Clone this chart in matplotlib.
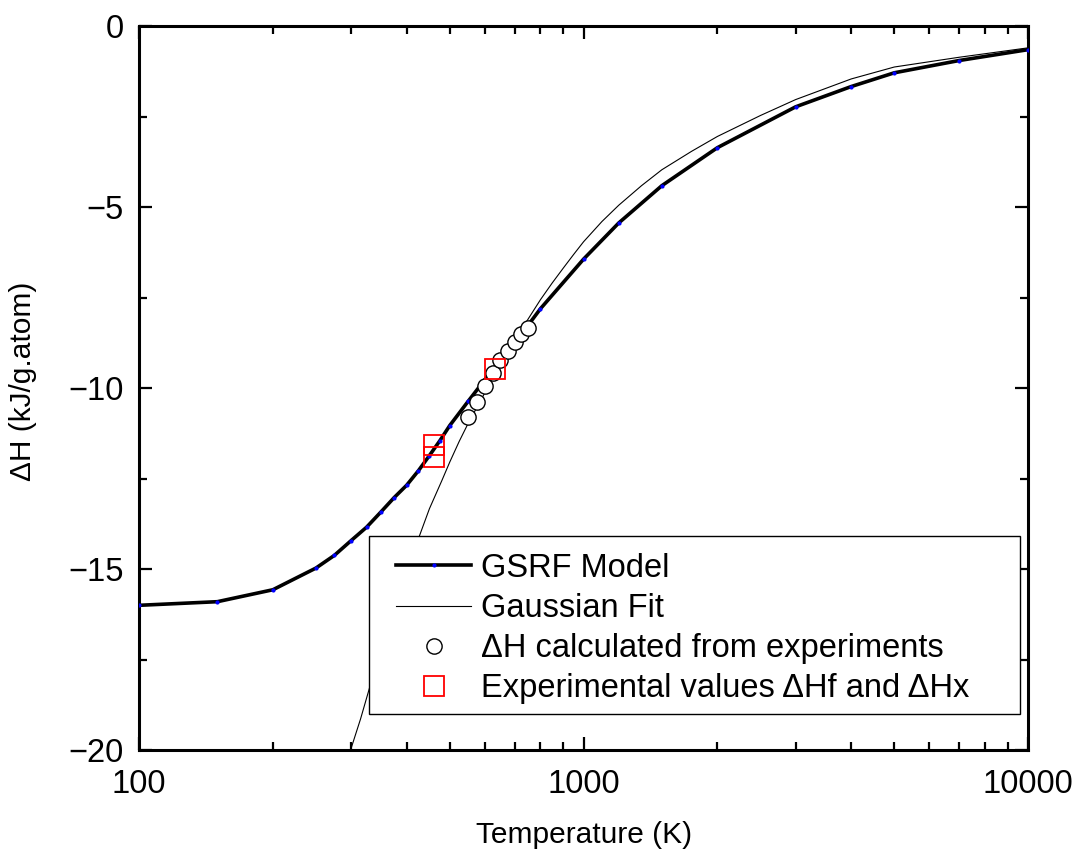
import numpy as np
import matplotlib
matplotlib.use("Agg")
import matplotlib.pyplot as plt
from matplotlib.patches import Rectangle
from matplotlib.ticker import FixedLocator, LogLocator, NullFormatter, MultipleLocator

plt.rcParams['font.family'] = ['Liberation Sans', 'DejaVu Sans']
plt.rcParams['axes.unicode_minus'] = True

# GSRF model curve
gsrf_T = [100, 150, 200, 250, 275, 300, 325, 350, 375, 400, 425, 450, 475, 500,
          550, 600, 650, 700, 750, 800, 1000, 1200, 1500, 2000, 3000, 4000,
          5000, 7000, 10000]
gsrf_H = [-16.00, -15.90, -15.57, -14.97, -14.62, -14.21, -13.84, -13.42, -13.02,
          -12.68, -12.28, -11.86, -11.45, -11.03, -10.36, -9.76, -9.22, -8.73,
          -8.26, -7.80, -6.43, -5.43, -4.40, -3.35, -2.22, -1.66, -1.28, -0.94,
          -0.64]

# Gaussian fit curve
fit_T = [290, 300, 315, 330, 350, 375, 400, 425, 450, 480, 500, 525, 550, 600,
         650, 700, 750, 800, 850, 900, 950, 1000, 1100, 1200, 1350, 1500, 1750,
         2000, 2500, 3000, 4000, 5000, 7000, 10000]
fit_H = [-20.4, -19.95, -19.14, -18.28, -17.31, -16.18, -15.12, -14.16, -13.33,
         -12.55, -12.04, -11.47, -10.97, -10.12, -9.36, -8.70, -8.09, -7.55,
         -7.09, -6.68, -6.30, -5.95, -5.39, -4.94, -4.40, -3.96, -3.45, -3.04,
         -2.46, -2.02, -1.45, -1.12, -0.85, -0.59]

# dH calculated from experiments
calc_T = [550, 575, 600, 625, 650, 675, 700, 725, 750]
calc_H = [-10.80, -10.37, -9.95, -9.57, -9.23, -8.96, -8.72, -8.51, -8.33]

# experimental dHf and dHx
exp_T = [460, 460, 631]
exp_H = [-11.57, -11.89, -9.48]

fig = plt.figure(figsize=(10.78, 8.52), dpi=100)
ax = fig.add_axes([0.129, 0.1197, 0.8247, 0.8492])

ax.plot(gsrf_T, gsrf_H, color='black', lw=2.6, marker='o', ms=2,
        mfc='blue', mec='blue', label='GSRF Model', zorder=3)
ax.plot(fit_T, fit_H, color='black', lw=0.8, label='Gaussian Fit', zorder=2)
ax.plot(calc_T, calc_H, ls='none', marker='o', ms=11, mfc='white', mec='black',
        mew=1.0, label='\u0394H calculated from experiments', zorder=4)
ax.plot(exp_T, exp_H, ls='none', marker='s', ms=14, mfc='none', mec='red',
        mew=1.3, label='Experimental values \u0394Hf and \u0394Hx', zorder=5)

ax.set_xscale('log')
ax.set_xlim(100, 10000)
ax.set_ylim(-20, 0)
ax.xaxis.set_major_locator(FixedLocator([100, 1000, 10000]))
ax.set_xticklabels(['100', '1000', '10000'])
ax.xaxis.set_minor_locator(LogLocator(base=10, subs=np.arange(2, 10)))
ax.xaxis.set_minor_formatter(NullFormatter())
ax.yaxis.set_major_locator(MultipleLocator(5))
ax.yaxis.set_minor_locator(MultipleLocator(2.5))

for s in ax.spines.values():
    s.set_linewidth(2.2)
ax.tick_params(which='both', direction='in', top=True, right=True,
               labelsize=23.5, width=1.6)
ax.tick_params(which='major', length=9.5)
ax.tick_params(which='minor', length=5.5)
ax.tick_params(axis='x', which='major', pad=14)
ax.tick_params(axis='y', which='major', pad=11)

ax.set_xlabel('Temperature (K)', fontsize=21.5, labelpad=15)
ax.set_ylabel('\u0394H (kJ/g.atom)', fontsize=21.5)
ax.yaxis.set_label_coords(-0.115, 0.51)

# legend box drawn separately so the inner padding can match
box = Rectangle((0.2587, 0.0498), 0.7323, 0.246, transform=ax.transAxes,
                facecolor='white', edgecolor='black', lw=1.0, zorder=6)
ax.add_patch(box)
leg = ax.legend(loc='upper left', bbox_to_anchor=(0.289, 0.2725), fontsize=23.5,
                frameon=False, handlelength=2.3, handletextpad=0.3,
                labelspacing=0.28, borderpad=0, borderaxespad=0)
leg.set_zorder(7)

fig.savefig('out.png', dpi=100)
